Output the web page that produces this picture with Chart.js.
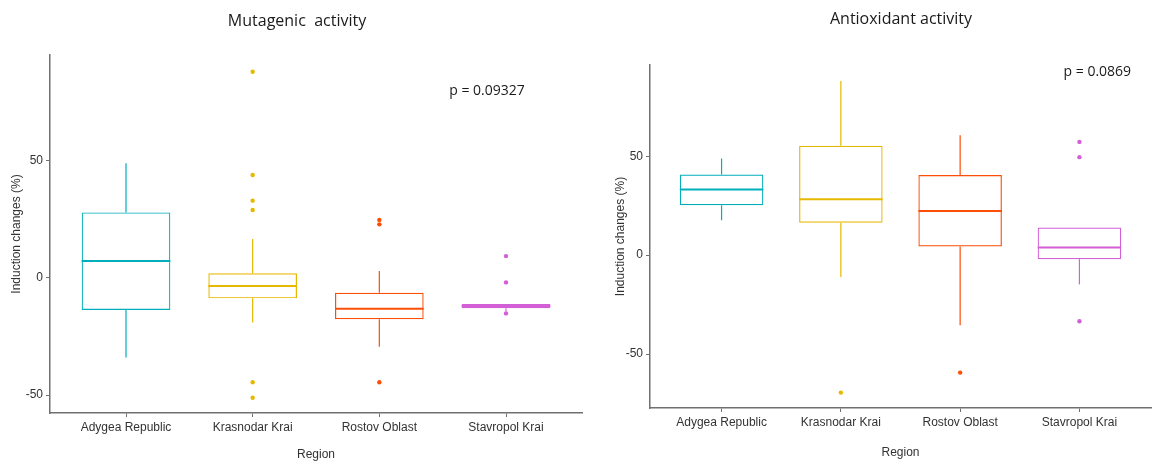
<!DOCTYPE html>
<html lang="en">
<head>
  <meta charset="UTF-8" />
  <title>Mutagenic and antioxidant activity by region</title>
  <script src="https://cdn.jsdelivr.net/npm/chart.js"></script>
  <style>
    body { margin: 0; background: #fff; }
    .wrap { position: relative; width: 1155px; height: 462px; overflow: hidden; }
    .panel { position: absolute; top: 0; }
    .title {
      position: absolute; font-family: "Open Sans", sans-serif; font-size: 16px;
      color: #1a1a1a; transform: translate(-50%, -50%); white-space: pre;
    }
  </style>
</head>
<body>
  <div class="wrap">
    <canvas id="chart-mut" class="panel" width="595" height="462" style="left:0"></canvas>
    <canvas id="chart-anti" class="panel" width="560" height="462" style="left:595px"></canvas>
    <div class="title" style="left:297px; top:20px">Mutagenic  activity</div>
    <div class="title" style="left:901px; top:18px">Antioxidant activity</div>
  </div>

  <script>
    const regions = ["Adygea Republic", "Krasnodar Krai", "Rostov Oblast", "Stavropol Krai"];
    const regionColors = ["#00AFBB", "#E7B800", "#FC4E07", "#D35FD6"];
    const yTicks = [-50, 0, 50];

    // Mutagenic activity (box stats)
    const mutLow = [-34.0, -19.1, -29.4, -14.3];
    const mutQ1 = [-13.7, -8.8, -17.7, -13.0];
    const mutMedian = [7.1, -3.5, -13.2, -12.0];
    const mutQ3 = [27.8, 1.9, -6.4, -11.2];
    const mutHigh = [48.7, 16.5, 2.9, -11.2];
    const mutOutliers = [[], [87.7, 43.7, 32.8, 28.8, -44.5, -51.1], [24.6, 22.7, -44.5], [9.2, -2.0, -15.2]];

    // Antioxidant activity
    const antiLow = [17.7, -11.0, -35.4, -14.8];
    const antiQ1 = [25.3, 16.4, 4.4, -2.0];
    const antiMedian = [33.2, 28.3, 22.4, 3.9];
    const antiQ3 = [40.8, 55.3, 40.5, 14.0];
    const antiHigh = [48.9, 88.1, 60.7, 14.0];
    const antiOutliers = [[], [-69.5], [-59.4], [57.3, 49.6, -33.4]];

    const axisColor = "#707070";
    const textColor = "#333";
    const tickFont = { family: "'Liberation Sans', Arial, sans-serif", size: 12 };

    function makeChart(id, s) {
      const boxData = regions.map((r, i) => ({ x: i + 1, y: [s.q1[i], s.q3[i]] }));
      const outData = [], outColors = [];
      s.outliers.forEach((vals, i) => vals.forEach(v => {
        outData.push({ x: i + 1, y: v });
        outColors.push(regionColors[i]);
      }));

      // whiskers + medians, drawn from the scales
      const boxLines = {
        id: "boxLines",
        afterDatasetsDraw(chart) {
          const { ctx, scales: { x, y } } = chart;
          const bars = chart.getDatasetMeta(0).data;
          ctx.save();
          regions.forEach((r, i) => {
            const cx = x.getPixelForValue(i + 1);
            ctx.strokeStyle = regionColors[i];
            ctx.lineWidth = 1.2;
            ctx.beginPath();
            ctx.moveTo(cx, y.getPixelForValue(s.q3[i]));
            ctx.lineTo(cx, y.getPixelForValue(s.high[i]));
            ctx.moveTo(cx, y.getPixelForValue(s.q1[i]));
            ctx.lineTo(cx, y.getPixelForValue(s.low[i]));
            ctx.stroke();
            const half = bars[i].width / 2;
            const my = y.getPixelForValue(s.median[i]);
            ctx.lineWidth = 2;
            ctx.beginPath();
            ctx.moveTo(cx - half, my);
            ctx.lineTo(cx + half, my);
            ctx.stroke();
          });
          ctx.restore();
        }
      };

      const pLabel = {
        id: "pLabel",
        afterDatasetsDraw(chart) {
          const { ctx, scales: { x, y } } = chart;
          ctx.save();
          ctx.font = "14px 'Open Sans', sans-serif";
          ctx.fillStyle = "#1a1a1a";
          ctx.textAlign = "center";
          ctx.textBaseline = "middle";
          ctx.fillText(s.pText, x.getPixelForValue(s.pAt[0]), y.getPixelForValue(s.pAt[1]));
          ctx.restore();
        }
      };

      return new Chart(document.getElementById(id), {
        type: "bar",
        data: {
          datasets: [
            {
              type: "bar", data: boxData,
              backgroundColor: "rgba(255,255,255,0)", borderColor: regionColors,
              borderWidth: 1.2, borderSkipped: false,
              barPercentage: 0.7, categoryPercentage: 1
            },
            {
              type: "scatter", data: outData,
              pointBackgroundColor: outColors, pointBorderWidth: 0, pointRadius: 2.2
            }
          ]
        },
        options: {
          responsive: false,
          animation: false,
          events: [],
          layout: { padding: s.padding },
          plugins: { legend: { display: false }, tooltip: { enabled: false } },
          scales: {
            x: {
              type: "linear", min: 0.4, max: 4.6, offset: false,
              afterFit: sc => { sc.height = s.xHeight; },
              afterBuildTicks: sc => { sc.ticks = regions.map((r, i) => ({ value: i + 1 })); },
              ticks: { callback: v => regions[v - 1], autoSkip: false, maxRotation: 0, padding: 3, color: textColor, font: tickFont },
              grid: { offset: false, drawOnChartArea: false, tickLength: 4, tickColor: axisColor },
              border: { color: axisColor, width: 1.5 },
              title: { display: true, text: "Region", color: textColor, font: tickFont, padding: { top: 0, bottom: s.xTitlePad } }
            },
            y: {
              min: s.yMin, max: s.yMax,
              afterFit: sc => { sc.width = s.yWidth; },
              afterBuildTicks: sc => { sc.ticks = yTicks.map(v => ({ value: v })); },
              ticks: { padding: 3, color: textColor, font: tickFont },
              grid: { offset: false, drawOnChartArea: false, tickLength: 4, tickColor: axisColor },
              border: { color: axisColor, width: 1.5 },
              title: { display: true, text: "Induction changes (%)", color: textColor, font: tickFont, padding: { top: s.yTitlePad, bottom: 0 } }
            }
          }
        },
        plugins: [boxLines, pLabel]
      });
    }

    makeChart("chart-mut", {
      low: mutLow, q1: mutQ1, median: mutMedian, q3: mutQ3, high: mutHigh, outliers: mutOutliers,
      yMin: -57.6, yMax: 94.8,
      pText: "p = 0.09327", pAt: [3.85, 79.4],
      padding: { top: 55, right: 13, bottom: 0, left: 0 },
      yWidth: 50, xHeight: 49, yTitlePad: 9, xTitlePad: 0
    });

    makeChart("chart-anti", {
      low: antiLow, q1: antiQ1, median: antiMedian, q3: antiQ3, high: antiHigh, outliers: antiOutliers,
      yMin: -77.3, yMax: 96.2,
      pText: "p = 0.0869", pAt: [4.15, 92.9],
      padding: { top: 65, right: 0, bottom: 0, left: 0 },
      yWidth: 55, xHeight: 54, yTitlePad: 18, xTitlePad: 2
    });
  </script>
</body>
</html>
